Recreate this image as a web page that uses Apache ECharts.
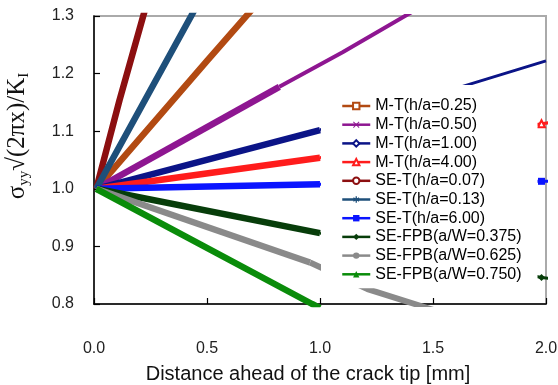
<!DOCTYPE html>
<html>
<head>
<meta charset="utf-8">
<script src="https://cdn.jsdelivr.net/npm/echarts@6/dist/echarts.min.js"></script>
<style>
  html, body {margin: 0; padding: 0; background: #fff;}
  #chart {width: 558px; height: 385px;}
</style>
</head>
<body>
<div id="chart"></div>
<script>
// legend names, in legend order
const names = [
  'M-T(h/a=0.25)', 'M-T(h/a=0.50)', 'M-T(h/a=1.00)', 'M-T(h/a=4.00)',
  'SE-T(h/a=0.07)', 'SE-T(h/a=0.13)', 'SE-T(h/a=6.00)',
  'SE-FPB(a/W=0.375)', 'SE-FPB(a/W=0.625)', 'SE-FPB(a/W=0.750)'
];

// thick part near the crack tip, [x mm, normalised stress]
const mt025 = [[0.01, 1.0], [0.5, 1.222], [0.75, 1.334]];
const mt050 = [[0.01, 1.0], [0.82, 1.177]];
const mt100 = [[0.01, 1.0], [1.0, 1.102]];
const mt400 = [[0.01, 1.0], [1.0, 1.054]];
const set007 = [[0.01, 1.0], [0.113, 1.154], [0.23, 1.317]];
const set013 = [[0.01, 1.0], [0.43, 1.30], [0.46, 1.322]];
const set600 = [[0.01, 1.0], [1.0, 1.008]];
const fpb375 = [[0.01, 1.0], [1.0, 0.923]];
const fpb625 = [[0.01, 1.0], [0.956, 0.872]];
const fpb750 = [[0.01, 1.0], [0.965, 0.80], [1.0, 0.793]];

// thinner far part
const mt050Tail = [[0.82, 1.177], [1.1, 1.237], [1.42, 1.31]];
const mt100Tail = [[1.0, 1.102], [1.7, 1.186], [2.0, 1.222]];
const mt400Tail = [[1.0, 1.054], [1.98, 1.113], [2.02, 1.115]];
const set600Tail = [[1.0, 1.008], [1.98, 1.013], [2.02, 1.013]];
const fpb375Tail = [[1.0, 0.923], [1.98, 0.846], [2.02, 0.844]];
const fpb625Tail = [[0.956, 0.872], [1.21, 0.826], [1.5, 0.79]];

const thick = [mt025, mt050, mt100, mt400, set007, set013, set600, fpb375, fpb625, fpb750];
const tails = [null, mt050Tail, mt100Tail, mt400Tail, null, null, set600Tail, fpb375Tail, fpb625Tail, null];
const tailMark = [null, null, null, 1, null, null, 1, 1, null, null];

const colors = ['#b24a12', '#8e1691', '#0b1487', '#ff1c1c', '#8c0f10',
  '#1e4f7a', '#0a14ff', '#073d0a', '#8a8a8a', '#0a8c0a'];
const xMark = 'path://M0,1L1,0L5,4L9,0L10,1L6,5L10,9L9,10L5,6L1,10L0,9L4,5Z';
const star = 'path://M4,0H6V3.3L8.9,1.6L9.9,3.3L7,5L9.9,6.7L8.9,8.4L6,6.7V10H4V6.7L1.1,8.4L0.1,6.7L3,5L0.1,3.3L1.1,1.6L4,3.3Z';
const symbols = ['emptyRect', xMark, 'emptyDiamond', 'emptyTriangle', 'emptyCircle',
  star, 'rect', 'diamond', 'circle', 'triangle'];

const series = [];
names.forEach((name, i) => {
  series.push({
    name, type: 'line', data: thick[i],
    symbol: symbols[i], showSymbol: false,
    lineStyle: {color: colors[i], width: 6.5, cap: 'butt'},
    itemStyle: {color: colors[i]},
    silent: true, animation: false, z: 2
  });
});
names.forEach((name, i) => {
  if (!tails[i]) return;
  const data = tails[i].map((p, k) => k === tailMark[i] ? {value: p} : {value: p, symbol: 'none'});
  series.push({
    name, type: 'line', data,
    symbol: symbols[i], symbolSize: 7, showSymbol: true,
    clip: tailMark[i] === null,
    lineStyle: {color: colors[i], width: i === 8 ? 6 : (i === 1 ? 4 : 3)},
    itemStyle: {color: colors[i]},
    silent: true, animation: false, z: 2
  });
});

const chart = echarts.init(document.getElementById('chart'));
chart.setOption({
  animation: false,
  grid: {left: 94, right: 12, top: 16, bottom: 81, outerBoundsMode: 'none',
    show: true, borderColor: '#aaaaaa', borderWidth: 2, backgroundColor: 'transparent'},
  xAxis: {
    type: 'value', min: 0, max: 2, interval: 0.5,
    axisLine: {show: true, onZero: false, lineStyle: {color: '#000', width: 1.5}},
    axisTick: {show: true, inside: true, length: 6, lineStyle: {color: '#000', width: 1.2}},
    axisLabel: {formatter: v => v.toFixed(1), margin: 37, fontSize: 16,
      color: '#222', fontFamily: 'Liberation Sans'},
    splitLine: {show: false},
    name: 'Distance ahead of the crack tip [mm]', nameLocation: 'middle', nameGap: 60,
    nameTextStyle: {fontSize: 20, color: '#111', fontFamily: 'Liberation Sans', padding: [0, 24, 0, 0]}
  },
  yAxis: {
    type: 'value', min: 0.8, max: 1.3, interval: 0.1,
    axisLine: {show: true, onZero: false, lineStyle: {color: '#000', width: 1.5}},
    axisTick: {show: true, inside: true, length: 6, lineStyle: {color: '#000', width: 1.2}},
    axisLabel: {formatter: v => v.toFixed(1), margin: 20, fontSize: 16,
      color: '#222', fontFamily: 'Liberation Sans', showMinLabel: true, showMaxLabel: true},
    splitLine: {show: false},
    name: '{m|σ}{s|yy}{m|√(2πx)/K}{s|I}', nameLocation: 'middle', nameGap: 62,
    nameTextStyle: {
      padding: [0, 0, 0, 48],
      rich: {
        m: {fontFamily: 'Liberation Serif', fontSize: 25, lineHeight: 29, color: '#111'},
        s: {fontFamily: 'Liberation Serif', fontSize: 15, lineHeight: 14, color: '#111', verticalAlign: 'bottom'}
      }
    }
  },
  legend: {
    data: names, orient: 'vertical', left: 321, top: 85,
    padding: [13, 16, 6, 20], backgroundColor: '#fff',
    itemWidth: 28, itemHeight: 8, itemGap: 2.7,
    lineStyle: {width: 2.5},
    textStyle: {fontFamily: 'Liberation Sans', fontSize: 16, color: '#000', lineHeight: 16},
    selectedMode: false
  },
  series
});
</script>
</body>
</html>
